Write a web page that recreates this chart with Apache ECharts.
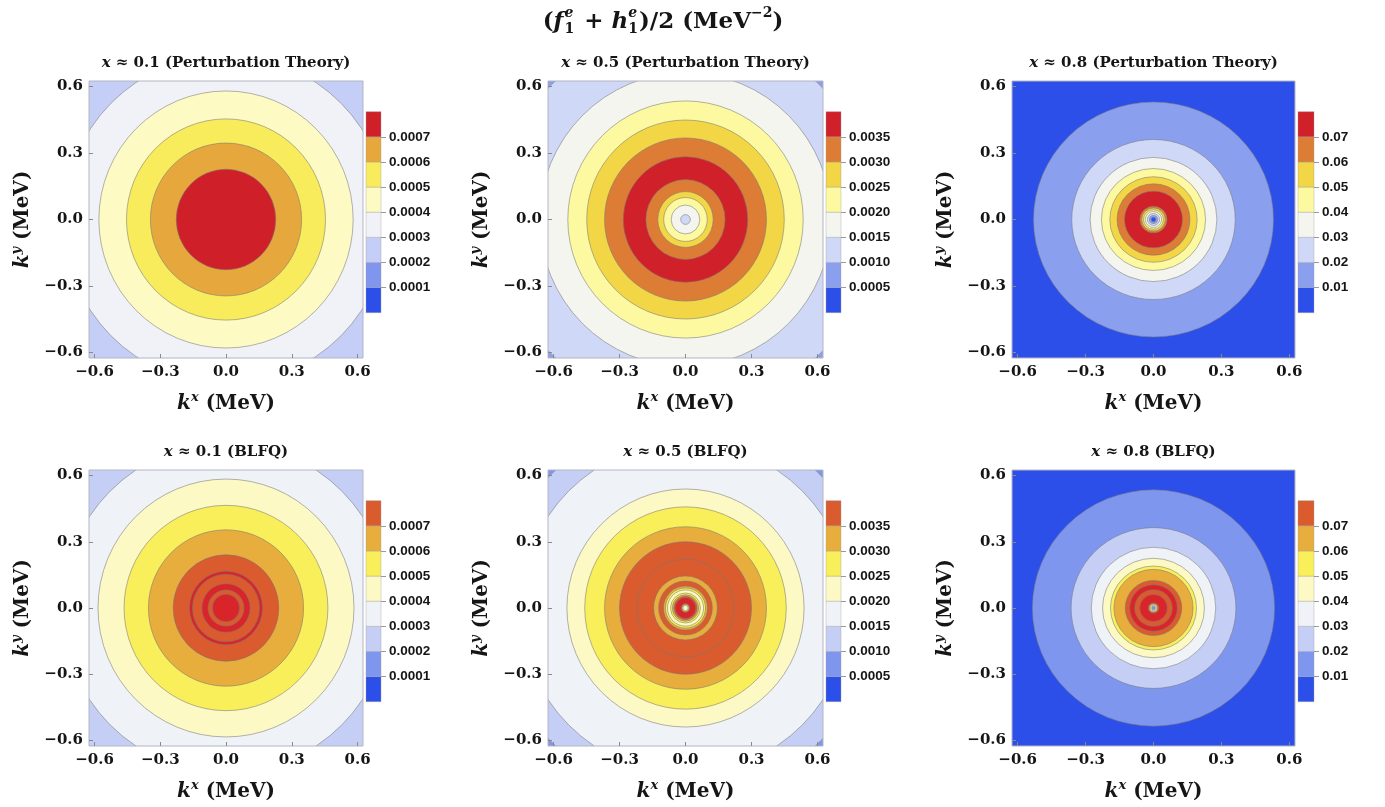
<!DOCTYPE html>
<html>
<head>
<meta charset="utf-8">
<script src="https://cdn.jsdelivr.net/npm/echarts@6/dist/echarts.min.js"></script>
<style>
  html, body { margin: 0; padding: 0; background: #ffffff; }
  #chart { width: 1385px; height: 807px; }
</style>
</head>
<body>
<div id="chart"></div>
<script>
// ---- contour levels printed on the colour bars ----
const levelsX01 = [0.0001, 0.0002, 0.0003, 0.0004, 0.0005, 0.0006, 0.0007];
const levelsX05 = [0.0005, 0.0010, 0.0015, 0.0020, 0.0025, 0.0030, 0.0035];
const levelsX08 = [0.01, 0.02, 0.03, 0.04, 0.05, 0.06, 0.07];
// upper end of each colour bar
const barMaxX01 = 0.0008;
const barMaxX05 = 0.0040;
const barMaxX08 = 0.08;

// transverse momentum ticks (MeV) and plotted range
const kTicks = [-0.6, -0.3, 0, 0.3, 0.6];
const kRange = 0.625;

// ---- filled contour regions: outer radius |k| (MeV) of each region and its level band ----
// band 0 = below the first level ... band 7 = above the last level, band 8 = beyond the bar
const ptX01Radius = [1.0, 0.742, 0.580, 0.454, 0.345, 0.227];
const ptX01Band   = [2,   3,     4,     5,     6,     7];

const ptX05Radius = [1.0, 0.861, 0.663, 0.535, 0.449, 0.368, 0.283, 0.180, 0.126, 0.099, 0.065, 0.022];
const ptX05Band   = [1,   2,     3,     4,     5,     6,     7,     6,     5,     4,     3,     2];

const ptX08Radius = [1.0, 0.530, 0.361, 0.280, 0.230, 0.193, 0.161, 0.128, 0.060, 0.052, 0.044, 0.036, 0.027, 0.018, 0.010];
const ptX08Band   = [0,   1,     2,     3,     4,     5,     6,     7,     6,     5,     4,     3,     2,     1,     0];

const blX01Radius = [1.0, 0.748, 0.584, 0.465, 0.354, 0.241, 0.167, 0.153, 0.110, 0.082, 0.062];
const blX01Band   = [2,   3,     4,     5,     6,     7,     8,     7,     8,     7,     8];

const blX05Radius = [1.0, 0.860, 0.750, 0.539, 0.458, 0.368, 0.300, 0.222, 0.145, 0.122, 0.100, 0.091, 0.082, 0.068, 0.060, 0.053, 0.047, 0.020, 0.016, 0.012];
const blX05Band   = [1,   2,     3,     4,     5,     6,     7,     7,     6,     7,     6,     5,     4,     5,     6,     7,     8,     7,     5,     4];

const blX08Radius = [1.0, 0.535, 0.364, 0.275, 0.225, 0.190, 0.175, 0.125, 0.105, 0.083, 0.061, 0.024, 0.018, 0.013, 0.008];
const blX08Band   = [0,   1,     2,     3,     4,     5,     6,     7,     8,     7,     8,     7,     5,     3,     1];

// ---- colour schemes (band 0 .. band 8) ----
const palettePTa  = ['#2c4fe9', '#7f95ee', '#c4cef6', '#f0f2f7', '#fdfbc3', '#f8ec5c', '#e6a83c', '#cf2029', '#cf2029'];
const palettePTb  = ['#2c4fe9', '#8aa0ef', '#cfd8f6', '#f4f5ee', '#fdf9a0', '#f2d645', '#dd7d35', '#d02029', '#d02029'];
const paletteBLFQ = ['#2c4fe9', '#7f96ee', '#c5cff6', '#eff2f6', '#fcf9c5', '#f9ef5b', '#e8ae3d', '#d95b2e', '#d9242a'];

// ---- layout (pixels) ----
const colLeft   = [89, 548, 1012];
const colWidth  = [274, 275, 283];
const rowTop    = [81, 470];
const rowHeight = [277, 276];
const barLeft   = [366, 826, 1298];
const barWidth  = [15, 15, 16];
const barTop    = [111.7, 500.7];
const barHeight = 201;

const panels = [
  { xs: '0.1', tag: 'Perturbation Theory', radius: ptX01Radius, band: ptX01Band, palette: palettePTa,  levels: levelsX01, barMax: barMaxX01, digits: 4, col: 0, row: 0 },
  { xs: '0.5', tag: 'Perturbation Theory', radius: ptX05Radius, band: ptX05Band, palette: palettePTb,  levels: levelsX05, barMax: barMaxX05, digits: 4, col: 1, row: 0 },
  { xs: '0.8', tag: 'Perturbation Theory', radius: ptX08Radius, band: ptX08Band, palette: palettePTb,  levels: levelsX08, barMax: barMaxX08, digits: 2, col: 2, row: 0 },
  { xs: '0.1', tag: 'BLFQ',                radius: blX01Radius, band: blX01Band, palette: paletteBLFQ, levels: levelsX01, barMax: barMaxX01, digits: 4, col: 0, row: 1 },
  { xs: '0.5', tag: 'BLFQ',                radius: blX05Radius, band: blX05Band, palette: paletteBLFQ, levels: levelsX05, barMax: barMaxX05, digits: 4, col: 1, row: 1 },
  { xs: '0.8', tag: 'BLFQ',                radius: blX08Radius, band: blX08Band, palette: paletteBLFQ, levels: levelsX08, barMax: barMaxX08, digits: 2, col: 2, row: 1 }
];

const SERIF = '"DejaVu Serif", "Liberation Serif", serif';
const SANS = '"Liberation Sans", Arial, sans-serif';
const INK = '#151515';

const kFmt = v => (v < -1e-9 ? '\u2212' : '') + Math.abs(v).toFixed(1);

const nameRich = {
  k: { fontFamily: SERIF, fontStyle: 'italic', fontWeight: 'bold', fontSize: 20, color: INK, lineHeight: 26 },
  s: { fontFamily: SERIF, fontStyle: 'italic', fontWeight: 'bold', fontSize: 13, color: INK, verticalAlign: 'top', lineHeight: 12 },
  m: { fontFamily: SERIF, fontWeight: 'bold', fontSize: 20, color: INK, lineHeight: 26 }
};

// Lays out a row of text pieces (with optional stacked super/subscripts) centred at cx
function mathLine(pieces, cx, cy) {
  const ctx = document.createElement('canvas').getContext('2d');
  const fontOf = p => (p.it ? 'italic ' : '') + 'bold ' + p.s + 'px ' + SERIF;
  const measure = p => { ctx.font = fontOf(p); return ctx.measureText(p.t).width; };
  const items = [];
  let x = 0;
  pieces.forEach(p => {
    const parts = p.stack || [p];
    let w = 0;
    parts.forEach(q => { items.push({ q: q, x: x }); w = Math.max(w, measure(q)); });
    x += w + (p.gap || 0);
  });
  const x0 = cx - x / 2;
  return {
    type: 'group',
    children: items.map(it => ({
      type: 'text',
      x: x0 + it.x,
      y: cy + (it.q.dy || 0),
      style: {
        text: it.q.t, font: fontOf(it.q), fill: INK,
        align: 'left', verticalAlign: 'middle', textAlign: 'left', textVerticalAlign: 'middle'
      }
    }))
  };
}

// plot grids use indices 0..5, colour-bar grids 6..11
const plotGrids = [], plotX = [], plotY = [], plotSeries = [];
const barGrids = [], barX = [], barY = [], barSeries = [];
const graphics = [];

panels.forEach((p, i) => {
  const left = colLeft[p.col], top = rowTop[p.row];
  const w = colWidth[p.col], h = rowHeight[p.row];

  // contour plot
  plotGrids.push({ left: left, top: top, width: w, height: h, show: true,
    backgroundColor: 'rgba(0,0,0,0)', borderColor: '#b2b6c2', borderWidth: 1, z: 6 });
  plotX.push({
    gridIndex: i, type: 'value', min: -kRange, max: kRange, z: 7, position: 'bottom',
    axisLine: { show: false, onZero: false }, splitLine: { show: false },
    axisTick: { show: true, inside: true, length: 4, customValues: kTicks, lineStyle: { color: '#8a8a8a', width: 1 } },
    axisLabel: { customValues: kTicks, formatter: kFmt, margin: 7, color: INK,
      fontFamily: SERIF, fontWeight: 'bold', fontSize: 15 },
    name: '{k|k}{s|x}{m| (MeV)}', nameLocation: 'middle', nameGap: 33,
    nameTextStyle: { rich: nameRich }
  });
  plotY.push({
    gridIndex: i, type: 'value', min: -kRange, max: kRange, z: 7, position: 'left',
    axisLine: { show: false, onZero: false }, splitLine: { show: false },
    axisTick: { show: true, inside: true, length: 4, customValues: kTicks, lineStyle: { color: '#8a8a8a', width: 1 } },
    axisLabel: { customValues: kTicks, formatter: kFmt, margin: 6, color: INK,
      fontFamily: SERIF, fontWeight: 'bold', fontSize: 15 },
    name: '{k|k}{s|y}{m| (MeV)}', nameLocation: 'middle', nameGap: 53,
    nameTextStyle: { rich: nameRich }
  });
  plotSeries.push({
    type: 'custom', xAxisIndex: i, yAxisIndex: i, clip: true, silent: true, animation: false,
    data: p.radius.map((r, j) => [r, p.band[j]]),
    renderItem: (params, api) => {
      const r = api.value(0), b = api.value(1);
      const c = api.coord([0, 0]);
      const rx = api.coord([r, 0])[0] - c[0];
      const ry = c[1] - api.coord([0, r])[1];
      return {
        type: 'circle', x: c[0], y: c[1], scaleY: ry / rx,
        shape: { cx: 0, cy: 0, r: rx },
        style: { fill: p.palette[b], stroke: 'rgba(120,120,120,0.62)', lineWidth: 0.9 }
      };
    }
  });

  // colour bar
  const gi = 6 + i;
  const edges = [0].concat(p.levels, [p.barMax]);
  barGrids.push({ left: barLeft[p.col], top: barTop[p.row], width: barWidth[p.col], height: barHeight });
  barX.push({ gridIndex: gi, type: 'value', min: 0, max: 1, show: false });
  barY.push({
    gridIndex: gi, type: 'value', min: 0, max: p.barMax, position: 'right',
    axisLine: { show: false, onZero: false }, splitLine: { show: false },
    axisTick: { show: true, inside: false, length: 5, customValues: p.levels, lineStyle: { color: '#9a9a9a', width: 1 } },
    axisLabel: { customValues: p.levels, formatter: v => v.toFixed(p.digits), margin: 8, color: INK,
      fontFamily: SANS, fontWeight: 'bold', fontSize: 13.5 }
  });
  barSeries.push({
    type: 'custom', xAxisIndex: gi, yAxisIndex: gi, silent: true, animation: false,
    data: edges.slice(0, -1).map((lo, j) => [lo, edges[j + 1], j]),
    renderItem: (params, api) => {
      const p1 = api.coord([0, api.value(0)]);
      const p2 = api.coord([1, api.value(1)]);
      return {
        type: 'rect',
        shape: { x: p1[0], y: p2[1], width: p2[0] - p1[0], height: p1[1] - p2[1] },
        style: { fill: p.palette[api.value(2)], stroke: 'rgba(150,150,160,0.6)', lineWidth: 0.6 }
      };
    }
  });

  // panel heading
  graphics.push({
    type: 'text',
    x: left + w / 2,
    y: p.row === 0 ? 63 : 452,
    style: {
      text: '{i|x} \u2248 ' + p.xs + ' (' + p.tag + ')',
      fontFamily: SERIF, fontWeight: 'bold', fontSize: 15, fill: INK,
      rich: { i: { fontFamily: SERIF, fontStyle: 'italic', fontWeight: 'bold', fontSize: 15, fill: INK } },
      align: 'center', verticalAlign: 'middle', textAlign: 'center', textVerticalAlign: 'middle'
    }
  });
});

// figure heading: (f_1^e + h_1^e)/2 (MeV^-2)
graphics.push(mathLine([
  { t: '(', s: 23 },
  { t: 'f', s: 23, it: true, gap: 1 },
  { stack: [{ t: 'e', s: 14, it: true, dy: -9 }, { t: '1', s: 14, dy: 7 }], gap: 2 },
  { t: ' + ', s: 23 },
  { t: 'h', s: 23, it: true },
  { stack: [{ t: 'e', s: 14, it: true, dy: -9 }, { t: '1', s: 14, dy: 7 }], gap: 1 },
  { t: ')/2 (MeV', s: 23 },
  { t: '\u22122', s: 14, dy: -9 },
  { t: ')', s: 23 }
], 663, 22));

const chart = echarts.init(document.getElementById('chart'), null, { renderer: 'canvas' });
chart.setOption({
  backgroundColor: '#ffffff',
  animation: false,
  grid: plotGrids.concat(barGrids),
  xAxis: plotX.concat(barX),
  yAxis: plotY.concat(barY),
  series: plotSeries.concat(barSeries),
  graphic: graphics
});
</script>
</body>
</html>
